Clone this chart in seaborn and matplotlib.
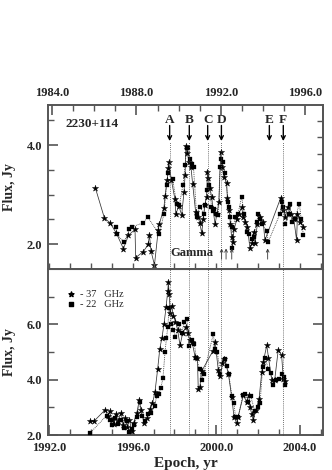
import matplotlib
matplotlib.use("Agg")
import matplotlib.pyplot as plt
import seaborn as sns
import pandas as pd
from matplotlib.lines import Line2D
from matplotlib.transforms import blended_transform_factory

# ---------------- data ----------------
# upper panel (1984-1996), 37 GHz (stars)
top37_year = [1986.05, 1986.48, 1986.75, 1987.05, 1987.38, 1987.62, 1987.93, 1987.96, 1988.32,
              1988.56, 1988.61, 1988.69, 1988.85, 1989.03, 1989.08, 1989.30, 1989.35, 1989.45,
              1989.51, 1989.53, 1989.65, 1989.82, 1989.86, 1990.00, 1990.14, 1990.25, 1990.30,
              1990.34, 1990.40, 1990.50, 1990.58, 1990.66, 1990.80, 1990.92, 1991.00, 1991.09,
              1991.15, 1991.24, 1991.32, 1991.36, 1991.40, 1991.48, 1991.56, 1991.62, 1991.72,
              1991.80, 1991.90, 1991.99, 1992.05, 1992.15, 1992.27, 1992.30, 1992.38, 1992.45,
              1992.50, 1992.56, 1992.62, 1992.75, 1992.85, 1992.98, 1993.05, 1993.15, 1993.25,
              1993.37, 1993.46, 1993.55, 1993.61, 1993.72, 1993.85, 1994.00, 1994.08, 1994.83,
              1994.95, 1995.05, 1995.15, 1995.30, 1995.45, 1995.58, 1995.62, 1995.75, 1995.90]
top37_flux = [3.14, 2.53, 2.43, 2.22, 1.91, 2.18, 2.30, 1.73, 1.85,
              2.00, 2.19, 1.86, 1.58, 2.29, 2.40, 2.74, 2.97, 3.30,
              3.53, 3.65, 3.30, 2.91, 2.60, 2.78, 2.59, 3.06, 3.40,
              3.99, 3.85, 3.65, 3.55, 3.21, 2.65, 2.55, 2.42, 2.22,
              2.50, 2.80, 2.96, 3.46, 3.34, 3.13, 2.95, 2.72, 2.40,
              2.60, 2.85, 3.87, 3.55, 3.35, 3.23, 2.94, 2.70, 2.40,
              2.15, 2.05, 2.30, 2.50, 2.62, 2.75, 2.55, 2.45, 2.35,
              1.92, 2.02, 2.25, 2.02, 2.40, 2.55, 2.45, 2.08, 2.94,
              2.70, 2.55, 2.75, 2.60, 2.50, 2.08, 2.60, 2.45, 2.35]

# upper panel, 22 GHz (squares)
top22_year = [1987.03, 1987.06, 1987.42, 1987.66, 1987.77, 1988.32, 1988.53, 1989.08, 1989.30,
              1989.43, 1989.48, 1989.71, 1989.90, 1990.03, 1990.20, 1990.30, 1990.38, 1990.45,
              1990.53, 1990.61, 1990.70, 1990.85, 1990.88, 1991.00, 1991.20, 1991.24, 1991.35,
              1991.45, 1991.55, 1991.60, 1991.68, 1991.75, 1991.88, 1991.95, 1992.00, 1992.10,
              1992.18, 1992.35, 1992.40, 1992.45, 1992.50, 1992.54, 1992.65, 1992.80, 1992.98,
              1993.10, 1993.22, 1993.35, 1993.45, 1993.55, 1993.69, 1993.77, 1993.85, 1993.95,
              1994.16, 1994.24, 1994.80, 1994.88, 1994.95, 1995.05, 1995.20, 1995.27, 1995.35,
              1995.50, 1995.71, 1995.80, 1995.90]
top22_flux = [2.35, 2.20, 2.04, 2.31, 2.35, 2.43, 2.55, 2.20, 2.62,
              3.19, 3.43, 3.31, 2.82, 2.79, 3.20, 3.60, 3.95, 3.95,
              3.73, 3.61, 3.55, 2.55, 2.60, 2.76, 2.60, 2.79, 3.10,
              3.20, 2.76, 2.68, 2.72, 2.60, 2.59, 3.56, 3.73, 3.66,
              3.43, 2.85, 2.75, 2.55, 2.35, 1.92, 2.55, 2.60, 2.96,
              2.60, 2.25, 2.20, 2.10, 2.15, 2.45, 2.62, 2.50, 2.40,
              2.27, 2.05, 2.62, 2.85, 2.75, 2.40, 2.60, 2.82, 2.45,
              2.50, 2.82, 2.50, 2.19]

# lower panel (1992-2004), 37 GHz (stars)
bot37_year = [1993.95, 1994.15, 1994.70, 1994.80, 1994.90, 1995.00, 1995.10, 1995.20, 1995.30,
              1995.45, 1995.55, 1995.65, 1995.75, 1995.85, 1995.95, 1996.05, 1996.20, 1996.32,
              1996.40, 1996.55, 1996.70, 1996.85, 1996.95, 1997.07, 1997.20, 1997.30, 1997.40,
              1997.50, 1997.60, 1997.68, 1997.71, 1997.75, 1997.80, 1997.87, 1997.95, 1998.05,
              1998.15, 1998.27, 1998.40, 1998.55, 1998.64, 1998.75, 1998.85, 1998.99, 1999.10,
              1999.14, 1999.22, 1999.30, 1999.85, 1999.95, 2000.10, 2000.20, 2000.30, 2000.39,
              2000.58, 2000.74, 2000.85, 2000.98, 2001.05, 2001.30, 2001.45, 2001.55, 2001.62,
              2001.70, 2001.77, 2001.90, 2002.05, 2002.18, 2002.25, 2002.42, 2002.50, 2002.66,
              2002.80, 2002.97, 2003.13, 2003.21, 2003.29]
bot37_flux = [2.50, 2.50, 2.92, 2.70, 2.85, 2.55, 2.40, 2.75, 2.50,
              2.80, 2.35, 2.60, 2.30, 2.55, 2.15, 2.45, 2.80, 3.26,
              2.90, 2.42, 2.60, 2.95, 3.14, 3.56, 4.40, 5.12, 5.50,
              6.00, 6.62, 7.20, 7.52, 7.10, 6.40, 6.68, 6.30, 6.10,
              5.80, 5.24, 5.70, 5.90, 5.67, 5.42, 5.35, 4.82, 4.78,
              3.68, 3.75, 4.30, 5.05, 5.35, 4.34, 4.15, 4.60, 4.76,
              4.22, 3.38, 2.66, 2.42, 2.66, 3.44, 3.20, 3.45, 3.00,
              2.76, 2.54, 2.90, 3.30, 4.28, 4.64, 5.24, 4.80, 4.00,
              4.00, 5.09, 4.88, 4.04, 3.95]

# lower panel, 22 GHz (squares)
bot22_year = [1993.95, 1994.75, 1994.90, 1995.00, 1995.15, 1995.30, 1995.45, 1995.60, 1995.75,
              1995.85, 1995.95, 1996.05, 1996.20, 1996.35, 1996.45, 1996.60, 1996.75, 1996.90,
              1997.05, 1997.15, 1997.25, 1997.35, 1997.45, 1997.55, 1997.62, 1997.68, 1997.75,
              1997.85, 1997.95, 1998.05, 1998.20, 1998.35, 1998.48, 1998.60, 1998.70, 1998.82,
              1998.95, 1999.05, 1999.20, 1999.30, 1999.40, 1999.86, 1999.95, 2000.05, 2000.20,
              2000.40, 2000.50, 2000.60, 2000.75, 2000.85, 2000.92, 2001.05, 2001.28, 2001.40,
              2001.52, 2001.65, 2001.85, 2001.98, 2002.10, 2002.22, 2002.35, 2002.48, 2002.60,
              2002.70, 2002.85, 2003.00, 2003.13, 2003.22, 2003.30]
bot22_flux = [2.06, 2.70, 2.55, 2.35, 2.60, 2.40, 2.55, 2.25, 2.50,
              2.10, 2.20, 2.35, 2.65, 3.20, 2.70, 2.50, 2.75, 2.80,
              3.05, 3.40, 3.50, 3.70, 4.05, 5.00, 5.50, 5.90, 6.60,
              6.00, 5.80, 5.55, 6.00, 5.70, 6.10, 6.20, 5.20, 5.45,
              5.30, 4.78, 4.40, 4.00, 4.20, 5.65, 5.10, 5.00, 4.20,
              4.75, 4.50, 4.20, 3.40, 3.14, 2.66, 2.66, 3.44, 3.50,
              3.20, 3.40, 2.85, 3.00, 3.14, 4.45, 4.80, 4.40, 4.25,
              3.80, 4.00, 4.02, 4.20, 4.10, 3.80]

event_labels = ["A", "B", "C", "D", "E", "F"]
event_years = [1989.57, 1990.50, 1991.37, 1992.02, 1994.29, 1994.95]   # upper-panel epochs
event_has_line = [True, True, True, True, False, True]
gamma_years = [1992.03, 1992.24, 1992.51, 1994.21]

source_name = "2230+114"
top_xticks = [1984, 1988, 1992, 1996]
bot_xticks = [1992, 1996, 2000, 2004]

# ---------------- style ----------------
sns.set_style("ticks")
plt.rcParams["font.family"] = ["Liberation Serif", "DejaVu Serif"]
plt.rcParams["font.weight"] = "bold"
SPINE = "#555555"
STAR_S = 22
SQ_S = 9

fig = plt.figure(figsize=(3.32, 4.70), dpi=100)
W, H = 332, 470
L, R = 48, 323
T1, B1 = 105, 269
B2 = 435
ax1 = fig.add_axes([L / W, 1 - B1 / H, (R - L) / W, (B1 - T1) / H])
ax2 = fig.add_axes([L / W, 1 - B2 / H, (R - L) / W, (B2 - B1) / H])

df_t37 = pd.DataFrame({"year": top37_year, "flux": top37_flux})
df_t22 = pd.DataFrame({"year": top22_year, "flux": top22_flux})
df_b37 = pd.DataFrame({"year": bot37_year, "flux": bot37_flux})
df_b22 = pd.DataFrame({"year": bot22_year, "flux": bot22_flux})


def draw(ax, d37, d22):
    sns.lineplot(data=d37, x="year", y="flux", ax=ax, color="#333333", lw=0.55,
                 estimator=None, sort=False, zorder=2)
    sns.lineplot(data=d22, x="year", y="flux", ax=ax, color="#333333", lw=0.6,
                 linestyle=(0, (1, 1.2)), estimator=None, sort=False, zorder=2)
    sns.scatterplot(data=d37, x="year", y="flux", ax=ax, marker="*", s=STAR_S,
                    color="black", edgecolor="black", linewidth=0.3, zorder=3)
    sns.scatterplot(data=d22, x="year", y="flux", ax=ax, marker="s", s=SQ_S,
                    color="black", edgecolor="black", linewidth=0.2, zorder=3)
    ax.set_xlabel("")
    ax.set_ylabel("Flux, Jy", fontsize=10, fontweight="bold")
    for sp in ax.spines.values():
        sp.set_visible(True)
        sp.set_color(SPINE)
        sp.set_linewidth(1.4)


draw(ax1, df_t37, df_t22)
draw(ax2, df_b37, df_b22)

# upper axes
ax1.set_xlim(1983.81, 1996.83)
ax1.set_ylim(1.50, 4.81)
ax1.set_xticks(top_xticks)
ax1.set_xticklabels([f"{v:.1f}" for v in top_xticks])
ax1.set_xticks(range(1984, 1997), minor=True)
ax1.set_yticks([2.0, 4.0])
ax1.set_yticklabels(["2.0", "4.0"])
ax1.set_yticks([2.5, 3.0, 3.5, 4.5], minor=True)
ax1.tick_params(axis="x", which="both", top=True, bottom=False, labeltop=True,
                labelbottom=False, direction="in", color=SPINE, labelsize=9, pad=4)
ax1.tick_params(axis="y", which="both", left=True, right=False, direction="in",
                color=SPINE, labelsize=9, pad=4)
ax1.tick_params(which="major", length=7, width=1.2)
ax1.tick_params(which="minor", length=4, width=1.0)
sec1 = ax1.secondary_yaxis("right")
sec1.set_yticks([4.49, 4.16, 3.82, 3.49, 3.15, 2.82, 2.48, 2.15, 1.81])
sec1.tick_params(direction="in", labelright=False, color=SPINE, length=4, width=1.0)
sec1.spines["right"].set_color(SPINE)
sec1.spines["right"].set_linewidth(1.4)

# lower axes
ax2.set_xlim(1991.95, 2005.11)
ax2.set_ylim(2.0, 8.0)
ax2.set_xticks(bot_xticks)
ax2.set_xticklabels([f"{v:.1f}" for v in bot_xticks])
ax2.set_xticks(range(1992, 2006), minor=True)
ax2.set_yticks([2.0, 4.0, 6.0])
ax2.set_yticklabels(["2.0", "4.0", "6.0"])
ax2.set_yticks([3.0, 5.0, 7.0], minor=True)
ax2.tick_params(axis="x", which="both", bottom=True, top=False, direction="in",
                color=SPINE, labelsize=9, pad=5)
ax2.tick_params(axis="y", which="both", left=True, right=True, direction="in",
                color=SPINE, labelsize=9, pad=4)
ax2.tick_params(which="major", length=7, width=1.2)
ax2.tick_params(which="minor", length=4, width=1.0)
ax2.set_xlabel("Epoch, yr", fontsize=11, fontweight="bold", labelpad=2)
sec2 = ax2.secondary_xaxis("top")
sec2.set_xticks(range(1992, 2006))
sec2.tick_params(direction="out", labeltop=False, color=SPINE, length=4, width=1.0)
sec2.spines["top"].set_color(SPINE)

# align y labels
for ax in (ax1, ax2):
    ax.yaxis.set_label_coords(-0.118, 0.5)

# source name
ax1.text(1984.62, 4.42, source_name, fontsize=9.5, fontweight="bold", va="center", ha="left")

# event letters, arrows and dotted lines
yfig_top = 1 - 142 / H
yfig_bot = 1 - B2 / H
trans = blended_transform_factory(ax1.transData, fig.transFigure)
for lab, yr, has_line in zip(event_labels, event_years, event_has_line):
    ax1.text(yr, 0.909, lab, transform=ax1.get_xaxis_transform(), ha="center",
             va="center", fontsize=9.5, fontweight="bold")
    ax1.annotate("", xy=(yr, 0.78), xytext=(yr, 0.875), xycoords=ax1.get_xaxis_transform(),
                 textcoords=ax1.get_xaxis_transform(),
                 arrowprops=dict(arrowstyle="->", color="black", lw=1.0,
                                 mutation_scale=7, shrinkA=0, shrinkB=0))
    if has_line:
        fig.add_artist(Line2D([yr, yr], [yfig_bot, yfig_top], transform=trans,
                              color="#444444", lw=0.6, linestyle=(0, (1, 1.5)), zorder=5))

# gamma label and arrows
ax1.text(1990.6, 0.10, "Gamma", transform=ax1.get_xaxis_transform(), ha="center",
         va="center", fontsize=9, fontweight="bold")
for yr in gamma_years:
    ax1.annotate("", xy=(yr, 0.125), xytext=(yr, 0.06), xycoords=ax1.get_xaxis_transform(),
                 textcoords=ax1.get_xaxis_transform(),
                 arrowprops=dict(arrowstyle="->", color="#333333", lw=0.6,
                                 mutation_scale=5, shrinkA=0, shrinkB=0))

# legend
lx = 1993.03
ax2.scatter([lx], [0.849], marker="*", s=14, color="black", transform=ax2.get_xaxis_transform(),
            clip_on=False)
ax2.scatter([lx], [0.789], marker="s", s=8, color="black", transform=ax2.get_xaxis_transform(),
            clip_on=False)
ax2.text(lx + 0.45, 0.849, "- 37   GHz", transform=ax2.get_xaxis_transform(), va="center",
         fontsize=7.5, fontweight="normal")
ax2.text(lx + 0.45, 0.789, "- 22   GHz", transform=ax2.get_xaxis_transform(), va="center",
         fontsize=7.5, fontweight="normal")

fig.savefig("out.png", dpi=100)
